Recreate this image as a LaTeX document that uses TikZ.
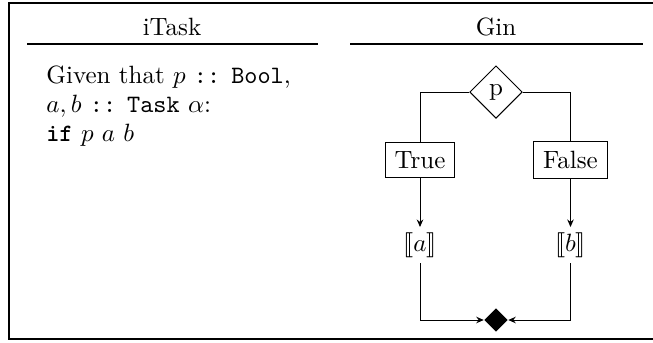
\documentclass[tikz,border=0pt]{standalone}
\usepackage{stmaryrd}
\usetikzlibrary{shapes.geometric,arrows.meta}
\tikzset{
  rule/.style={line width=0.5pt},
  frameline/.style={line width=0.6pt},
  title/.style={anchor=base, inner sep=0pt},
  textline/.style={anchor=base west, inner sep=0pt},
  choice/.style={draw, diamond, inner sep=0pt, minimum size=21pt, line width=0.4pt},
  branch/.style={draw, rectangle, inner sep=3.7pt, line width=0.4pt},
  result/.style={inner sep=2pt},
  merge/.style={diamond, fill=black, inner sep=0pt, minimum size=9.4pt},
  flow/.style={line width=0.4pt},
  flowarrow/.style={flow, -{Stealth[length=3pt, width=2.6pt]}},
}
\begin{document}
\begin{tikzpicture}[x=0.4pt, y=-0.4pt]
  \useasboundingbox (0,0) rectangle (653,342);
  % outer frame (continues past the right edge)
  \draw[frameline] (680,3) -- (9,3) -- (9,339) -- (680,339);
  % column headings
  \node[title] (hl) at (172,35) {iTask};
  \node[title] (hr) at (496,35) {Gin};
  \draw[rule] (27,44) -- (318,44);
  \draw[rule] (350,44) -- (643,44);
  % iTask column
  \node[textline] (l1) at (46,83) {Given that $p$ \texttt{::} \texttt{Bool},};
  \node[textline] (l2) at (46,112) {$a, b$ \texttt{::} \texttt{Task} $\alpha$:};
  \node[textline] (l3) at (46,141) {\texttt{\textbf{if}} $p$ $a$ $b$};
  % Gin column
  \node[choice] (p) at (496,92) {p};
  \node[branch] (t) at (420,160) {True};
  \node[branch] (f) at (570.5,160) {False};
  \node[result] (a) at (420,245) {$\llbracket a\rrbracket$};
  \node[result] (b) at (570.5,245) {$\llbracket b\rrbracket$};
  \node[merge] (m) at (496,320) {};
  \draw[flow] (p.west) -| (t.north);
  \draw[flow] (p.east) -| (f.north);
  \draw[flowarrow] (t.south) -- (a.north);
  \draw[flowarrow] (f.south) -- (b.north);
  \draw[flowarrow] (a.south) |- (m.west);
  \draw[flowarrow] (b.south) |- (m.east);
\end{tikzpicture}
\end{document}
